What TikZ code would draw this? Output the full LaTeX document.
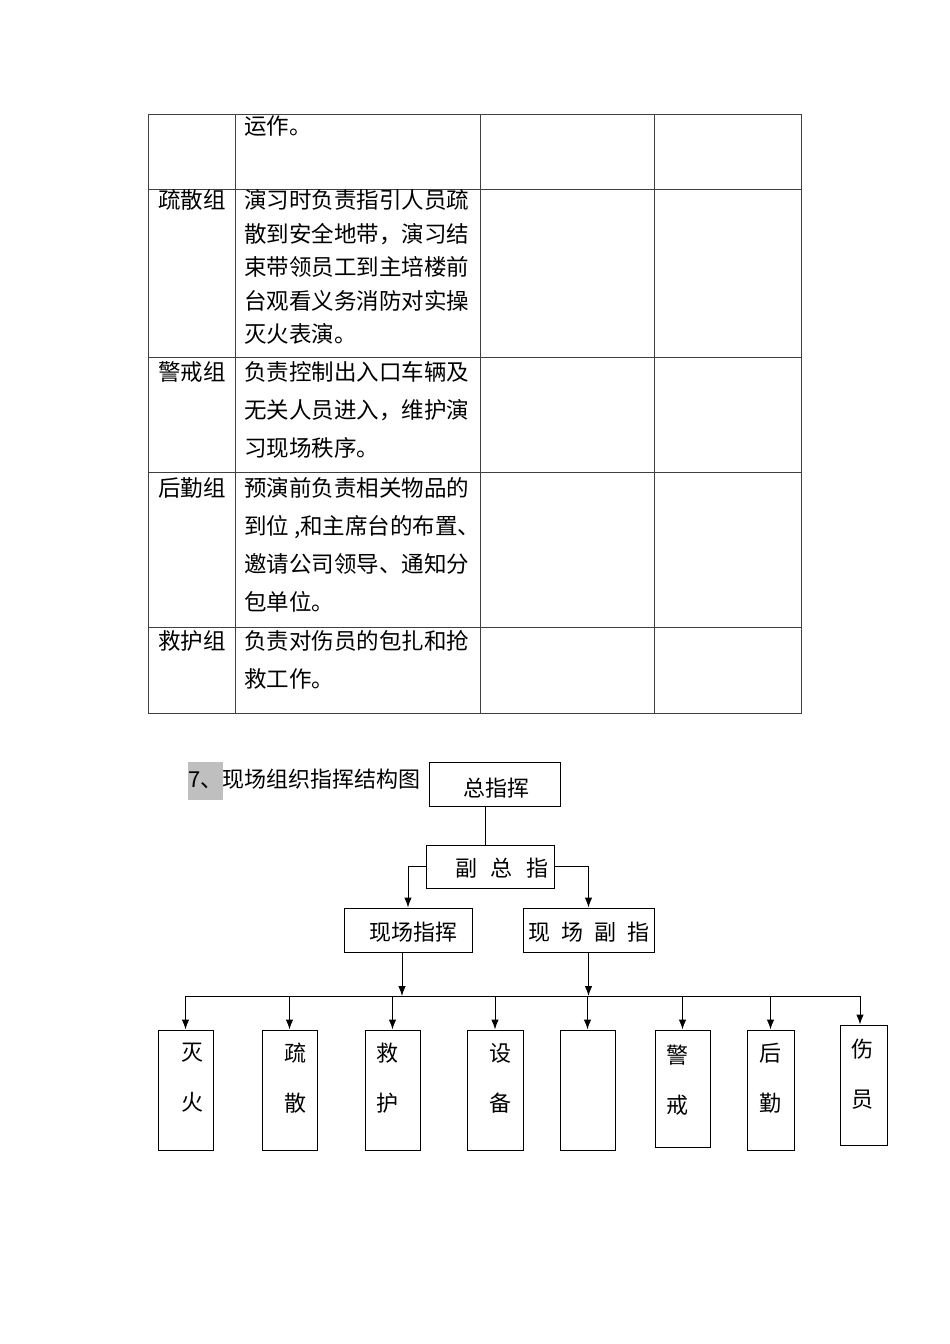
\documentclass[tikz,border=0pt]{standalone}
\usepackage{fontspec}
\setmainfont{Noto Sans CJK SC}
\usetikzlibrary{arrows.meta}

\begin{document}
\begin{tikzpicture}[x=1pt,y=-1pt,
    rule/.style={draw=black!75, line width=0.9pt},
    cell/.style={anchor=north west, inner sep=0pt, align=left, font=\fontsize{22.5}{38}\selectfont},
    head/.style={draw, line width=1pt, inner sep=0pt, font=\fontsize{22}{26}\selectfont},
    grp/.style={draw, line width=1pt, inner sep=0pt, minimum height=120pt},
    grptext/.style={inner sep=0pt, align=center, font=\fontsize{22}{50}\selectfont},
    arr/.style={-{Latex[length=10pt,width=7.5pt]}, line width=1pt}]
    \useasboundingbox (0,0) rectangle (950,1344);
    % table
    \draw[rule] (148,114) rectangle (801,713);
    \foreach \x in {235,480,654} \draw[rule] (\x,114) -- (\x,713);
    \foreach \y in {189,357,472,627} \draw[rule] (148,\y) -- (801,\y);
    \node[cell] (r1) at (244,115) {运作。};
    \node[cell] (r2h) at (158,189.5) {疏散组};
    \node[cell, font=\fontsize{22.5}{33.5}\selectfont] (r2) at (244,189.5)
        {演习时负责指引人员疏\\散到安全地带，演习结\\束带领员工到主培楼前\\台观看义务消防对实操\\灭火表演。};
    \node[cell] (r3h) at (158,361.5) {警戒组};
    \node[cell] (r3) at (244,361.5) {负责控制出入口车辆及\\无关人员进入，维护演\\习现场秩序。};
    \node[cell] (r4h) at (158,477.5) {后勤组};
    \node[cell] (r4) at (244,477.5) {预演前负责相关物品的\\到位 ,和主席台的布置、\\邀请公司领导、通知分\\包单位。};
    \node[cell] (r5h) at (158,630.5) {救护组};
    \node[cell] (r5) at (244,630.5) {负责对伤员的包扎和抢\\救工作。};
    % chart
    \fill[black!25] (188,762) rectangle (223,800);
    \node[anchor=west, inner sep=0pt, font=\fontsize{22}{26}\selectfont] (title) at (188,779) {7、现场组织指挥结构图};
    \node[head, minimum width=131pt, minimum height=44pt] (zong) at (494.5,784) {\hspace*{4pt}\raisebox{-12.4pt}[0pt][0pt]{总指挥}};
    \node[head, minimum width=128pt, minimum height=43pt] (fuzong) at (490,866.5) {\hspace*{24pt}\raisebox{-10pt}[0pt][0pt]{副\hspace{14pt}总\hspace{14pt}指}};
    \node[head, minimum width=128pt, minimum height=44pt] (xianchang) at (408,930) {\hspace*{10pt}\raisebox{-10.4pt}[0pt][0pt]{现场指挥}};
    \node[head, minimum width=131pt, minimum height=44pt] (xianfu) at (588.5,930) {\raisebox{-10.4pt}[0pt][0pt]{现\hspace{11pt}场\hspace{11pt}副\hspace{11pt}指}};
    \node[grp, minimum width=55pt] (g1) at (185.5,1090) {};
    \node[grp, minimum width=55pt] (g2) at (289.5,1090) {};
    \node[grp, minimum width=55pt] (g3) at (392.5,1090) {};
    \node[grp, minimum width=56pt] (g4) at (495,1090) {};
    \node[grp, minimum width=55pt] (g5) at (587.5,1090) {};
    \node[grp, minimum width=55pt, minimum height=117pt] (g6) at (682.5,1088.5) {};
    \node[grp, minimum width=47pt] (g7) at (770.5,1090) {};
    \node[grp, minimum width=47pt] (g8) at (863.5,1085) {};
    \node[grptext] (t1) at (192,1078) {灭\\火};
    \node[grptext] (t2) at (295,1078) {疏\\散};
    \node[grptext] (t3) at (387,1078) {救\\护};
    \node[grptext] (t4) at (500,1078) {设\\备};
    \node[grptext] (t6) at (677,1080.5) {警\\戒};
    \node[grptext] (t7) at (770,1078) {后\\勤};
    \node[grptext] (t8) at (862,1074) {伤\\员};
    \coordinate (bus) at (0,996);
    \draw[line width=1pt] ([xshift=-9.5pt]zong.south) -- ([xshift=-5pt]fuzong.north);
    \draw[arr] (fuzong.west) -| (xianchang.north);
    \draw[arr] (fuzong.east) -| (xianfu.north);
    \draw[arr] ([xshift=-6pt]xianchang.south) -- ([xshift=-6pt]xianchang.south |- bus);
    \draw[arr] (xianfu.south) -- (xianfu.south |- bus);
    \draw[line width=1pt] (g1.north |- bus) -- ([xshift=-3.5pt]g8.north |- bus);
    \foreach \g in {g1,g2,g3,g4,g5,g6,g7} \draw[arr] (\g.north |- bus) -- (\g.north);
    \draw[arr] ([xshift=-3.5pt]g8.north |- bus) -- ([xshift=-3.5pt]g8.north);
\end{tikzpicture}
\end{document}
